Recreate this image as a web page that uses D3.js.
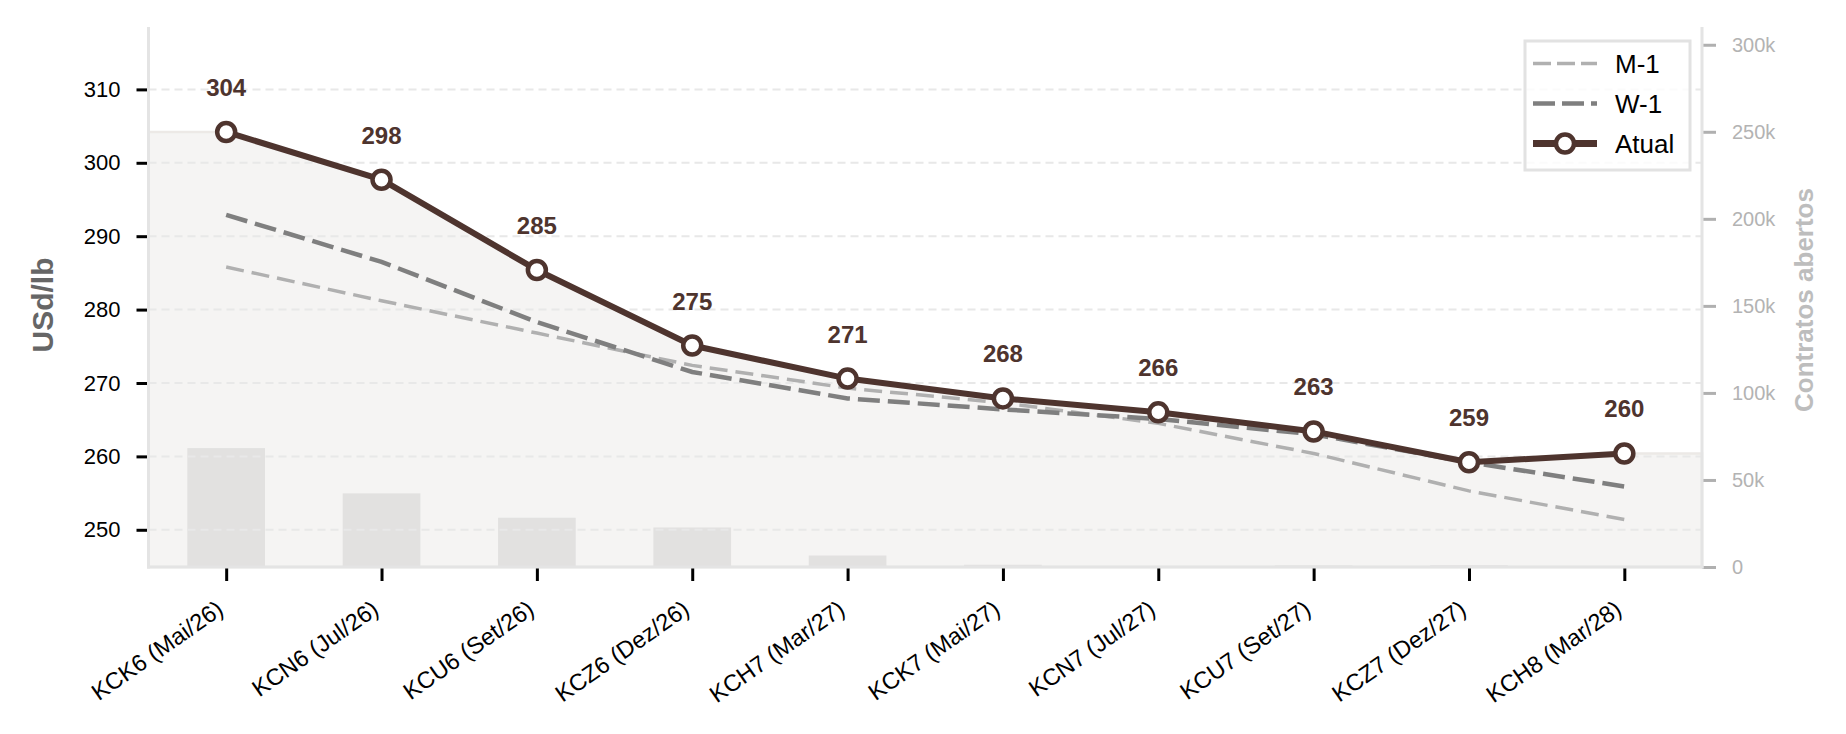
<!DOCTYPE html>
<html>
<head>
<meta charset="utf-8">
<script src="https://cdn.jsdelivr.net/npm/d3@7"></script>
<style>
  html, body { margin: 0; padding: 0; background: #fff; }
  svg { display: block; font-family: "Liberation Sans", Arial, sans-serif; }
</style>
</head>
<body>
<div id="chart"></div>
<script>
// Dados da curva
const contratos = ["KCK6 (Mai/26)", "KCN6 (Jul/26)", "KCU6 (Set/26)", "KCZ6 (Dez/26)", "KCH7 (Mar/27)",
  "KCK7 (Mai/27)", "KCN7 (Jul/27)", "KCU7 (Set/27)", "KCZ7 (Dez/27)", "KCH8 (Mar/28)"]
const atual = [304.2, 297.7, 285.4, 275.1, 270.6, 267.9, 266.0, 263.4, 259.2, 260.4]
const semanaAnterior = [292.9, 286.5, 278.3, 271.5, 267.9, 266.4, 265.1, 263.0, 259.2, 255.9]
const mesAnterior = [285.8, 281.2, 276.8, 272.4, 269.3, 267.3, 264.5, 260.4, 255.3, 251.4]
const contratosAbertos = [68300, 42300, 28300, 22700, 6600, 1300, 300, 900, 1000, 200]
const ticksPreco = [250, 260, 270, 280, 290, 300, 310]
const ticksOI = [0, 50000, 100000, 150000, 200000, 250000, 300000]

const W = 1846, H = 734
const margin = { top: 27, right: 144, bottom: 167, left: 148.5 }
const x0 = margin.left, x1 = W - margin.right
const y0 = margin.top, y1 = H - margin.bottom

const brown = "#4e342e"

const svg = d3.select("#chart").append("svg").attr("width", W).attr("height", H)

// Escalas
const x = d3.scalePoint().domain(contratos).range([x0, x1]).padding(0.5)
const y = d3.scaleLinear().domain([244.93, 318.5]).range([y1, y0])
const y2 = d3.scaleLinear().domain([0, 310200]).range([y1, y0])
const step = x.step()

// Área sombreada abaixo da curva atual (estendida até as bordas)
const areaPts = [[x0, atual[0]]]
  .concat(contratos.map((c, i) => [x(c), atual[i]]))
  .concat([[x1, atual[atual.length - 1]]])
svg.append("path")
  .datum(areaPts)
  .attr("fill", "#f5f4f3")
  .attr("stroke", "#ece9e6")
  .attr("stroke-width", 2.5)
  .attr("d", d3.area().x(d => d[0]).y0(y1).y1(d => y(d[1])))

// Barras de contratos abertos
svg.append("g").selectAll("rect")
  .data(contratosAbertos)
  .enter()
  .append("rect")
  .attr("x", (d, i) => x(contratos[i]) - step * 0.25)
  .attr("width", step * 0.5)
  .attr("y", d => y2(d))
  .attr("height", d => y1 - y2(d))
  .attr("fill", "#e2e1e0")

// Grade horizontal
svg.append("g").selectAll("line")
  .data(ticksPreco)
  .enter()
  .append("line")
  .attr("x1", x0).attr("x2", x1)
  .attr("y1", d => y(d)).attr("y2", d => y(d))
  .attr("stroke", "#e8e8e8")
  .attr("stroke-width", 2)
  .attr("stroke-dasharray", "8,5")

// Eixo esquerdo
const axL = svg.append("g")
  .attr("transform", "translate(" + x0 + ",0)")
  .call(d3.axisLeft(y).tickValues(ticksPreco).tickSize(12).tickPadding(16))
axL.select(".domain").remove()
axL.selectAll(".tick line").attr("stroke", "#000").attr("stroke-width", 3)
axL.selectAll(".tick text").attr("font-size", 22).attr("fill", "#000").attr("font-family", null)

// Eixo direito
const axR = svg.append("g")
  .attr("transform", "translate(" + x1 + ",0)")
  .call(d3.axisRight(y2).tickValues(ticksOI).tickSize(14).tickPadding(16)
    .tickFormat(d => d === 0 ? "0" : d / 1000 + "k"))
axR.select(".domain").remove()
axR.selectAll(".tick line").attr("stroke", "#b0b0b0").attr("stroke-width", 3)
axR.selectAll(".tick text").attr("font-size", 20).attr("fill", "#b3b3b3").attr("font-family", null)

// Eixo x
const axB = svg.append("g")
  .attr("transform", "translate(0," + y1 + ")")
  .call(d3.axisBottom(x).tickSize(14).tickFormat(""))
axB.select(".domain").remove()
axB.selectAll(".tick line").attr("stroke", "#000").attr("stroke-width", 3)

svg.append("g").selectAll("text")
  .data(contratos)
  .enter()
  .append("text")
  .attr("transform", d => "translate(" + (x(d) - 6) + "," + (y1 + 39) + ") rotate(-35)")
  .attr("text-anchor", "end")
  .attr("dy", "0.35em")
  .attr("font-size", 23.5)
  .attr("fill", "#000")
  .text(d => d)

// Bordas
const spine = "#e4e4e4"
svg.append("line").attr("x1", x0).attr("x2", x0).attr("y1", y0).attr("y2", y1 + 1.5)
  .attr("stroke", spine).attr("stroke-width", 3)
svg.append("line").attr("x1", x1).attr("x2", x1).attr("y1", y0).attr("y2", y1 + 1.5)
  .attr("stroke", spine).attr("stroke-width", 3)
svg.append("line").attr("x1", x0 - 1.5).attr("x2", x1 + 1.5).attr("y1", y1).attr("y2", y1)
  .attr("stroke", spine).attr("stroke-width", 3)

// Linhas
const line = d3.line().x((d, i) => x(contratos[i])).y(d => y(d))

svg.append("path").datum(mesAnterior)
  .attr("fill", "none").attr("stroke", "#b0b0b0").attr("stroke-width", 3.5)
  .attr("stroke-dasharray", "18,8").attr("d", line)

svg.append("path").datum(semanaAnterior)
  .attr("fill", "none").attr("stroke", "#7f7f7f").attr("stroke-width", 4.5)
  .attr("stroke-dasharray", "22,8").attr("d", line)

svg.append("path").datum(atual)
  .attr("fill", "none").attr("stroke", brown).attr("stroke-width", 6)
  .attr("stroke-linejoin", "round").attr("d", line)

svg.append("g").selectAll("circle")
  .data(atual)
  .enter()
  .append("circle")
  .attr("cx", (d, i) => x(contratos[i]))
  .attr("cy", d => y(d))
  .attr("r", 9)
  .attr("fill", "#fff")
  .attr("stroke", brown)
  .attr("stroke-width", 4.5)

// Rótulos dos valores
svg.append("g").selectAll("text")
  .data(atual)
  .enter()
  .append("text")
  .attr("x", (d, i) => x(contratos[i]))
  .attr("y", d => y(d) - 36)
  .attr("text-anchor", "middle")
  .attr("font-size", 24)
  .attr("font-weight", "bold")
  .attr("fill", brown)
  .text(d => d3.format(".0f")(d))

// Títulos dos eixos
svg.append("text")
  .attr("transform", "translate(53,305) rotate(-90)")
  .attr("text-anchor", "middle")
  .attr("font-size", 30)
  .attr("font-weight", "bold")
  .attr("fill", "#666")
  .text("USd/lb")

svg.append("text")
  .attr("transform", "translate(1813,300) rotate(-90)")
  .attr("text-anchor", "middle")
  .attr("font-size", 26)
  .attr("font-weight", "bold")
  .attr("fill", "#bdbdbd")
  .text("Contratos abertos")

// Legenda
const legend = svg.append("g").attr("transform", "translate(1525,41)")
legend.append("rect")
  .attr("width", 165).attr("height", 129)
  .attr("fill", "#fff").attr("fill-opacity", 0.8)
  .attr("stroke", "#e2e2e2").attr("stroke-width", 3)

const itens = [
  { nome: "M-1", cor: "#b0b0b0", largura: 3.5, traco: "18,6" },
  { nome: "W-1", cor: "#7f7f7f", largura: 4.5, traco: "22,7" },
  { nome: "Atual", cor: brown, largura: 7, traco: null }
]
itens.forEach((it, i) => {
  const ly = 22.5 + i * 40
  legend.append("line")
    .attr("x1", 8).attr("x2", 72).attr("y1", ly).attr("y2", ly)
    .attr("stroke", it.cor).attr("stroke-width", it.largura)
    .attr("stroke-dasharray", it.traco)
  if (!it.traco) {
    legend.append("circle").attr("cx", 40).attr("cy", ly).attr("r", 9)
      .attr("fill", "#fff").attr("stroke", brown).attr("stroke-width", 4.5)
  }
  legend.append("text")
    .attr("x", 90).attr("y", ly).attr("dy", "0.35em")
    .attr("font-size", 26).attr("fill", "#000")
    .text(it.nome)
})
</script>
</body>
</html>
